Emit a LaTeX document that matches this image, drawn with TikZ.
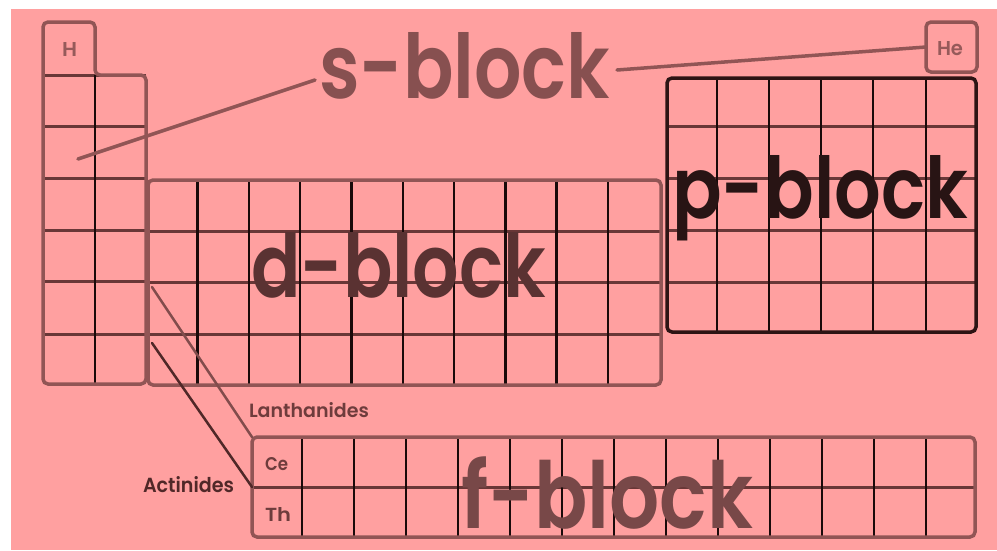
\documentclass[tikz,border=0pt]{standalone}
\usepackage{fontspec}
\setmainfont{Poppins}
\newfontfamily\bigfont{Poppins SemiBold}
\newfontfamily\labfont{Poppins SemiBold}
\usepackage{graphicx}
\definecolor{pinkbg}{RGB}{255,160,160}
\definecolor{obrown}{RGB}{145,85,85}
\definecolor{hbrown}{RGB}{105,55,55}
\definecolor{vblack}{RGB}{25,10,10}
\definecolor{pdark}{RGB}{45,20,20}
\definecolor{stextc}{RGB}{135,80,80}
\definecolor{dtextc}{RGB}{90,50,50}
\definecolor{ptextc}{RGB}{40,20,20}
\definecolor{ftextc}{RGB}{120,72,72}
\definecolor{smallc}{RGB}{150,90,90}
\definecolor{labc}{RGB}{110,60,60}
\definecolor{actc}{RGB}{80,40,40}
\begin{document}
\begin{tikzpicture}[x=1pt,y=-1pt,
  outl/.style={draw=obrown,line width=3.5pt,rounded corners=5pt},
  blockbox/.style={draw=obrown,line width=3.5pt,rounded corners=5pt,inner sep=0pt,outer sep=0pt,fill=none},
  hl/.style={draw=hbrown,line width=3pt},
  vl/.style={draw=vblack,line width=2.5pt},
  lbl/.style={anchor=base west,inner sep=0pt,outer sep=0pt,font=\labfont},
  big/.style={anchor=base west,inner sep=0pt,outer sep=0pt,font=\bigfont},
  lead/.style={draw=obrown,line width=3.5pt,line cap=round},
  flead/.style={line width=2.5pt,line cap=round}]
\useasboundingbox (0,0) rectangle (997,550);
\fill[white] (0,0) rectangle (997,550);
\fill[pinkbg] (11,9) rectangle (997,550);

% s-block grid
\foreach \y in {75,126,178,230,281,334} \draw[hl] (43,\y) -- (146,\y);
\draw[vl] (95,75) -- (95,384);
\draw[outl] (43,384) -- (43,22) -- (95,22) -- (95,75) -- (146,75) -- (146,384) -- cycle;

% d-block grid
\foreach \y in {231,282,334} \draw[hl] (148,\y) -- (661,\y);
\foreach \i in {1,...,9} \draw[vl] ({146.3+51.3*\i},180) -- ({146.3+51.3*\i},385);
\node[blockbox,minimum width=513pt,minimum height=205pt] (dblk) at (404.5,282.5) {};

% p-block grid
\foreach \y in {126,178,230,282} \draw[hl] (667,\y) -- (976,\y);
\foreach \x in {717,769,821,873,926} \draw[vl] (\x,78) -- (\x,332);
\node[blockbox,draw=pdark,minimum width=309pt,minimum height=254pt] (pblk) at (821.5,205) {};

% He cell
\node[blockbox,minimum width=51pt,minimum height=50pt] (hebox) at (951.5,47) {};

% f-block grid
\draw[hl] (252,487) -- (975,487);
\foreach \k in {0,...,12} \draw[vl] ({302+52*\k},437) -- ({302+52*\k},537);
\node[blockbox,minimum width=723pt,minimum height=100pt] (fblk) at (613.5,487) {};

% element labels
\node[lbl,text=smallc] (hlab) at (62,56) {\resizebox{15pt}{14pt}{H}};
\node[lbl,text=smallc] (helab) at (937,55) {\resizebox{26pt}{14pt}{He}};
\node[lbl,text=labc] (celab) at (265,470) {\resizebox{23pt}{13pt}{Ce}};
\node[lbl,text=labc] (thlab) at (265,521) {\resizebox{26pt}{14pt}{Th}};
\node[lbl,text=labc] (lanlab) at (249,417) {\resizebox{120pt}{15pt}{Lanthanides}};
\node[lbl,text=actc] (actlab) at (143,492) {\resizebox{91pt}{16pt}{Actinides}};

% block titles
\node[big,text=stextc] (stext) at (319,98) {\resizebox{291pt}{66pt}{s-block}};
\node[big,text=dtextc] (dtext) at (251,297) {\resizebox{295pt}{65pt}{d-block}};
\node[big,text=ptextc] (ptext) at (672,218) {\resizebox{296pt}{63pt}{p-block}};
\node[big,text=ftextc] (ftext) at (461,528) {\resizebox{292pt}{72pt}{f-block}};

% leaders
\coordinate (sin) at (78,159);
\coordinate (sL) at (315,80);
\coordinate (sR) at (617,70);
\draw[lead] (sin) -- (sL);
\draw[lead] (sR) -- (hebox.west);

\coordinate (lan) at (152,287);
\coordinate (act) at (152,343);
\draw[flead,draw=obrown!90!black] (lan) -- (fblk.north west);
\draw[flead,draw=actc] (act) -- (fblk.west);
\end{tikzpicture}
\end{document}
